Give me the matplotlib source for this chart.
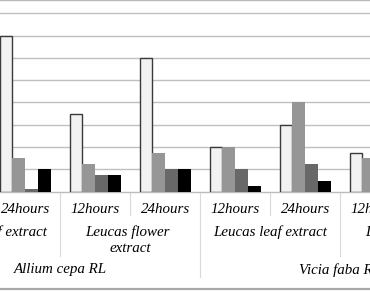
import numpy as np
import matplotlib
matplotlib.use("Agg")
import matplotlib.pyplot as plt
from matplotlib.transforms import blended_transform_factory
from matplotlib.lines import Line2D

# ---- data (full 8-category structure; hidden / cropped values = nan) ----
hours = ["12hours", "24hours"] * 4
extracts = ["Leucas leaf extract", "Leucas flower\nextract",
            "Leucas leaf extract", "Leucas flower\nextract"]
species = ["Allium cepa RL", "Vicia faba RL"]

nan = np.nan
series_names = ["Series 1", "Series 2", "Series 3", "Series 4"]
s1 = [nan, 7.0, 3.5, 6.0, 2.0, 3.0, 1.75, nan]
s2 = [nan, 1.5, 1.25, 1.75, 2.0, 4.0, 1.5, nan]
s3 = [nan, 0.1, 0.75, 1.0, 1.0, 1.25, nan, nan]
s4 = [nan, 1.0, 0.75, 1.0, 0.25, 0.5, nan, nan]

colors = ["#f2f2f2", "#969696", "#686868", "#000000"]
edges = ["#3a3a3a", "none", "none", "none"]

W, H = 370, 292
fig = plt.figure(figsize=(W / 100, H / 100), dpi=100)
fig.patch.set_facecolor("white")

base_px = 191.7
unit_px = 22.3
ax = fig.add_axes([0, (H - base_px) / H, 1, base_px / H])

x = np.arange(len(hours))
bw = 0.183
for i, (vals, c, e) in enumerate(zip([s1, s2, s3, s4], colors, edges)):
    ax.bar(x + (i - 1.5) * bw, vals, width=bw, color=c,
           edgecolor=e, linewidth=1.0 if e != "none" else 0,
           zorder=3, label=series_names[i])

# x mapping: category k center at pixel -44.7 + 70k
x0 = 44.7 / 70
ax.set_xlim(x0, x0 + W / 70)
ax.set_ylim(0, base_px / unit_px)
ax.set_yticks(np.arange(1, 9))
ax.yaxis.grid(True, color="#c0c0c0", linewidth=1.0, zorder=0)
ax.set_xticks([])
ax.tick_params(left=False, labelleft=False)
for sp in ["left", "right"]:
    ax.spines[sp].set_visible(False)
ax.spines["top"].set_color("#b8b8b8")
ax.spines["top"].set_linewidth(1.0)
ax.spines["bottom"].set_color("#bcbcbc")
ax.spines["bottom"].set_linewidth(1.0)

tr = blended_transform_factory(ax.transData, fig.transFigure)
def fy(px):
    return 1 - px / H

font = dict(family=["Liberation Serif", "DejaVu Serif"], style="italic",
            fontsize=10.8, color="#000000")

# level 1: hours
for k, h in enumerate(hours):
    ax.text(k, fy(209.5), h, transform=tr, ha="center", va="center",
            clip_on=False, **font)
# level 2: extracts (each line placed separately; wrapped lines keep a
# trailing space, which shifts them slightly left)
for g, ex in enumerate(extracts):
    cx = 2 * g + 0.5
    lines = ex.split("\n")
    for j, line in enumerate(lines):
        shift = -0.035 if (len(lines) > 1 and j < len(lines) - 1) else 0.0
        ax.text(cx + shift, fy(231.7 + 16.6 * j), line, transform=tr,
                ha="center", va="center", clip_on=False, **font)
# level 3: species
for s, sp in enumerate(species):
    cx = 4 * s + 1.5
    ax.text(cx, fy(270), sp, transform=tr, ha="center", va="center",
            clip_on=False, **font)

# separators
sep_col = "#d9d9d9"
for b in np.arange(-0.5, len(hours) + 0.5, 1.0):
    kb = int(round(b + 0.5))
    if kb % 4 == 0:
        y2 = 277
    elif kb % 2 == 0:
        y2 = 256
    else:
        y2 = 215
    fig.add_artist(Line2D([b, b], [fy(193), fy(y2)], transform=tr,
                          color=sep_col, linewidth=0.8))

# bottom chart frame
fig.add_artist(Line2D([0, 1], [fy(289.3), fy(289.3)], transform=fig.transFigure,
                      color="#a8a8a8", linewidth=1.6))

fig.savefig("out.png", dpi=100, facecolor="white")
